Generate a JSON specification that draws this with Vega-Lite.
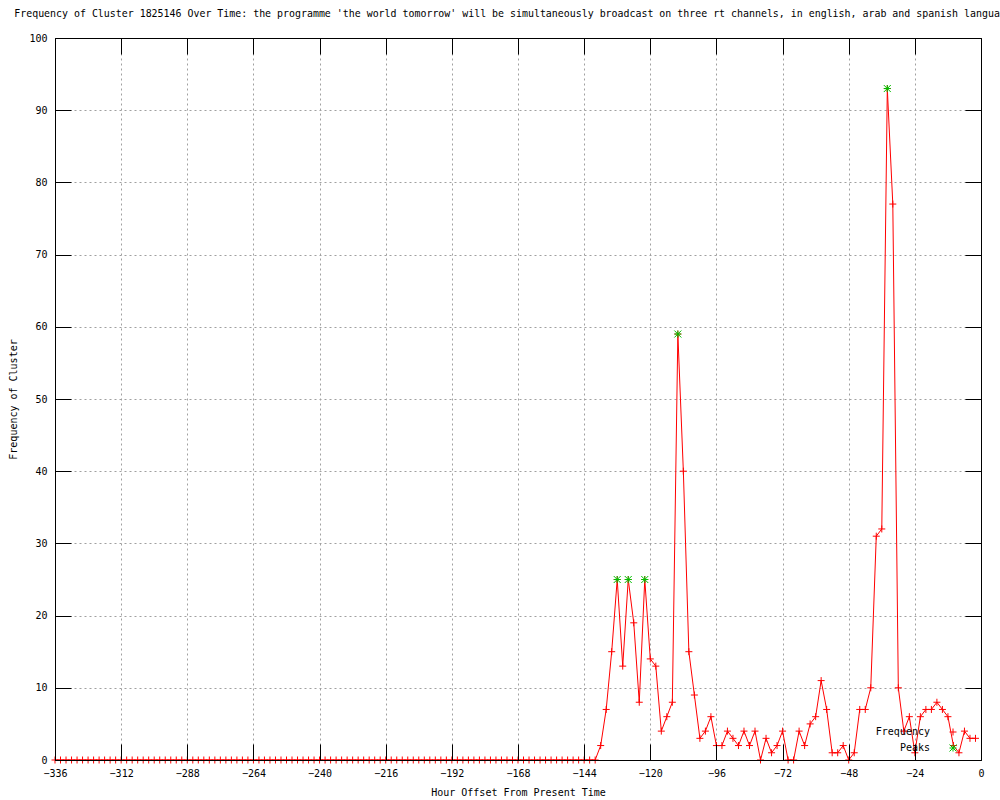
{
 "$schema": "https://vega.github.io/schema/vega-lite/v6.json",
 "autosize": {"type": "none"},
 "width": 926,
 "height": 722,
 "padding": {"left": 55, "top": 38, "right": 19, "bottom": 40},
 "background": "white",
 "title": {"text": "Frequency of Cluster 1825146 Over Time: the programme 'the world tomorrow' will be simultaneously broadcast on three rt channels, in english, arab and spanish languages", "font": "DejaVu Sans Mono", "fontSize": 9.93, "fontWeight": "normal", "color": "black", "anchor": "middle", "offset": 14, "limit": 0, "dx": -2},
 "config": {
  "view": {"stroke": null},
  "axis": {"labelFont": "DejaVu Sans Mono", "labelFontSize": 10, "labelColor": "black", "titleFont": "DejaVu Sans Mono", "titleFontSize": 10, "titleFontWeight": "normal", "titleColor": "black", "domainColor": "black", "tickColor": "black", "gridColor": "#a0a0a0", "gridDash": [2, 3], "gridWidth": 1, "gridOpacity": 1, "labelFlush": false, "labelOverlap": false}
 },
 "data": {"values": [
  {"h":-336,"f":0,"s":"Frequency"},{"h":-334,"f":0,"s":"Frequency"},{"h":-332,"f":0,"s":"Frequency"},{"h":-330,"f":0,"s":"Frequency"},{"h":-328,"f":0,"s":"Frequency"},{"h":-326,"f":0,"s":"Frequency"},{"h":-324,"f":0,"s":"Frequency"},{"h":-322,"f":0,"s":"Frequency"},{"h":-320,"f":0,"s":"Frequency"},{"h":-318,"f":0,"s":"Frequency"},{"h":-316,"f":0,"s":"Frequency"},{"h":-314,"f":0,"s":"Frequency"},{"h":-312,"f":0,"s":"Frequency"},{"h":-310,"f":0,"s":"Frequency"},{"h":-308,"f":0,"s":"Frequency"},{"h":-306,"f":0,"s":"Frequency"},{"h":-304,"f":0,"s":"Frequency"},{"h":-302,"f":0,"s":"Frequency"},{"h":-300,"f":0,"s":"Frequency"},{"h":-298,"f":0,"s":"Frequency"},{"h":-296,"f":0,"s":"Frequency"},{"h":-294,"f":0,"s":"Frequency"},{"h":-292,"f":0,"s":"Frequency"},{"h":-290,"f":0,"s":"Frequency"},{"h":-288,"f":0,"s":"Frequency"},{"h":-286,"f":0,"s":"Frequency"},{"h":-284,"f":0,"s":"Frequency"},{"h":-282,"f":0,"s":"Frequency"},{"h":-280,"f":0,"s":"Frequency"},{"h":-278,"f":0,"s":"Frequency"},{"h":-276,"f":0,"s":"Frequency"},{"h":-274,"f":0,"s":"Frequency"},{"h":-272,"f":0,"s":"Frequency"},{"h":-270,"f":0,"s":"Frequency"},{"h":-268,"f":0,"s":"Frequency"},{"h":-266,"f":0,"s":"Frequency"},{"h":-264,"f":0,"s":"Frequency"},{"h":-262,"f":0,"s":"Frequency"},{"h":-260,"f":0,"s":"Frequency"},{"h":-258,"f":0,"s":"Frequency"},{"h":-256,"f":0,"s":"Frequency"},{"h":-254,"f":0,"s":"Frequency"},{"h":-252,"f":0,"s":"Frequency"},{"h":-250,"f":0,"s":"Frequency"},{"h":-248,"f":0,"s":"Frequency"},{"h":-246,"f":0,"s":"Frequency"},{"h":-244,"f":0,"s":"Frequency"},{"h":-242,"f":0,"s":"Frequency"},{"h":-240,"f":0,"s":"Frequency"},{"h":-238,"f":0,"s":"Frequency"},{"h":-236,"f":0,"s":"Frequency"},{"h":-234,"f":0,"s":"Frequency"},{"h":-232,"f":0,"s":"Frequency"},{"h":-230,"f":0,"s":"Frequency"},{"h":-228,"f":0,"s":"Frequency"},{"h":-226,"f":0,"s":"Frequency"},{"h":-224,"f":0,"s":"Frequency"},{"h":-222,"f":0,"s":"Frequency"},{"h":-220,"f":0,"s":"Frequency"},{"h":-218,"f":0,"s":"Frequency"},{"h":-216,"f":0,"s":"Frequency"},{"h":-214,"f":0,"s":"Frequency"},{"h":-212,"f":0,"s":"Frequency"},{"h":-210,"f":0,"s":"Frequency"},{"h":-208,"f":0,"s":"Frequency"},{"h":-206,"f":0,"s":"Frequency"},{"h":-204,"f":0,"s":"Frequency"},{"h":-202,"f":0,"s":"Frequency"},{"h":-200,"f":0,"s":"Frequency"},{"h":-198,"f":0,"s":"Frequency"},{"h":-196,"f":0,"s":"Frequency"},{"h":-194,"f":0,"s":"Frequency"},{"h":-192,"f":0,"s":"Frequency"},{"h":-190,"f":0,"s":"Frequency"},{"h":-188,"f":0,"s":"Frequency"},{"h":-186,"f":0,"s":"Frequency"},{"h":-184,"f":0,"s":"Frequency"},{"h":-182,"f":0,"s":"Frequency"},{"h":-180,"f":0,"s":"Frequency"},{"h":-178,"f":0,"s":"Frequency"},{"h":-176,"f":0,"s":"Frequency"},{"h":-174,"f":0,"s":"Frequency"},{"h":-172,"f":0,"s":"Frequency"},{"h":-170,"f":0,"s":"Frequency"},{"h":-168,"f":0,"s":"Frequency"},{"h":-166,"f":0,"s":"Frequency"},{"h":-164,"f":0,"s":"Frequency"},{"h":-162,"f":0,"s":"Frequency"},{"h":-160,"f":0,"s":"Frequency"},{"h":-158,"f":0,"s":"Frequency"},{"h":-156,"f":0,"s":"Frequency"},{"h":-154,"f":0,"s":"Frequency"},{"h":-152,"f":0,"s":"Frequency"},{"h":-150,"f":0,"s":"Frequency"},{"h":-148,"f":0,"s":"Frequency"},{"h":-146,"f":0,"s":"Frequency"},{"h":-144,"f":0,"s":"Frequency"},{"h":-142,"f":0,"s":"Frequency"},{"h":-140,"f":0,"s":"Frequency"},
  {"h":-138,"f":2,"s":"Frequency"},{"h":-136,"f":7,"s":"Frequency"},{"h":-134,"f":15,"s":"Frequency"},{"h":-132,"f":25,"s":"Frequency"},{"h":-130,"f":13,"s":"Frequency"},{"h":-128,"f":25,"s":"Frequency"},{"h":-126,"f":19,"s":"Frequency"},{"h":-124,"f":8,"s":"Frequency"},{"h":-122,"f":25,"s":"Frequency"},{"h":-120,"f":14,"s":"Frequency"},{"h":-118,"f":13,"s":"Frequency"},{"h":-116,"f":4,"s":"Frequency"},{"h":-114,"f":6,"s":"Frequency"},{"h":-112,"f":8,"s":"Frequency"},{"h":-110,"f":59,"s":"Frequency"},{"h":-108,"f":40,"s":"Frequency"},{"h":-106,"f":15,"s":"Frequency"},{"h":-104,"f":9,"s":"Frequency"},{"h":-102,"f":3,"s":"Frequency"},{"h":-100,"f":4,"s":"Frequency"},{"h":-98,"f":6,"s":"Frequency"},{"h":-96,"f":2,"s":"Frequency"},{"h":-94,"f":2,"s":"Frequency"},{"h":-92,"f":4,"s":"Frequency"},{"h":-90,"f":3,"s":"Frequency"},{"h":-88,"f":2,"s":"Frequency"},{"h":-86,"f":4,"s":"Frequency"},{"h":-84,"f":2,"s":"Frequency"},{"h":-82,"f":4,"s":"Frequency"},{"h":-80,"f":0,"s":"Frequency"},{"h":-78,"f":3,"s":"Frequency"},{"h":-76,"f":1,"s":"Frequency"},{"h":-74,"f":2,"s":"Frequency"},{"h":-72,"f":4,"s":"Frequency"},{"h":-70,"f":0,"s":"Frequency"},{"h":-68,"f":0,"s":"Frequency"},{"h":-66,"f":4,"s":"Frequency"},{"h":-64,"f":2,"s":"Frequency"},{"h":-62,"f":5,"s":"Frequency"},{"h":-60,"f":6,"s":"Frequency"},{"h":-58,"f":11,"s":"Frequency"},{"h":-56,"f":7,"s":"Frequency"},{"h":-54,"f":1,"s":"Frequency"},{"h":-52,"f":1,"s":"Frequency"},{"h":-50,"f":2,"s":"Frequency"},{"h":-48,"f":0,"s":"Frequency"},{"h":-46,"f":1,"s":"Frequency"},{"h":-44,"f":7,"s":"Frequency"},{"h":-42,"f":7,"s":"Frequency"},{"h":-40,"f":10,"s":"Frequency"},{"h":-38,"f":31,"s":"Frequency"},{"h":-36,"f":32,"s":"Frequency"},{"h":-34,"f":93,"s":"Frequency"},{"h":-32,"f":77,"s":"Frequency"},{"h":-30,"f":10,"s":"Frequency"},{"h":-28,"f":4,"s":"Frequency"},{"h":-26,"f":6,"s":"Frequency"},{"h":-24,"f":1,"s":"Frequency"},{"h":-22,"f":6,"s":"Frequency"},{"h":-20,"f":7,"s":"Frequency"},{"h":-18,"f":7,"s":"Frequency"},{"h":-16,"f":8,"s":"Frequency"},{"h":-14,"f":7,"s":"Frequency"},{"h":-12,"f":6,"s":"Frequency"},{"h":-10,"f":2,"s":"Frequency"},{"h":-8,"f":1,"s":"Frequency"},{"h":-6,"f":4,"s":"Frequency"},{"h":-4,"f":3,"s":"Frequency"},{"h":-2,"f":3,"s":"Frequency"},
  {"h":-132,"f":25,"s":"Peaks"},{"h":-128,"f":25,"s":"Peaks"},{"h":-122,"f":25,"s":"Peaks"},{"h":-110,"f":59,"s":"Peaks"},{"h":-34,"f":93,"s":"Peaks"}
 ]},
 "layer": [
  {
   "transform": [{"filter": "datum.s === 'Frequency'"}],
   "mark": {"type": "line", "color": "#ff0000", "strokeWidth": 1},
   "encoding": {
    "x": {"field": "h", "type": "quantitative", "scale": {"domain": [-336, 0], "nice": false, "zero": false},
          "axis": {"orient": "bottom", "values": [-336,-312,-288,-264,-240,-216,-192,-168,-144,-120,-96,-72,-48,-24,0], "grid": false, "domain": true, "ticks": true, "tickSize": -16, "labelPadding": 24, "zindex": 1, "title": "Hour Offset From Present Time", "titlePadding": 9}},
    "y": {"field": "f", "type": "quantitative", "scale": {"domain": [0, 100], "nice": false},
          "axis": {"orient": "left", "values": [0,10,20,30,40,50,60,70,80,90,100], "grid": false, "domain": true, "ticks": true, "tickSize": -16, "labelPadding": 24, "zindex": 1, "title": "Frequency of Cluster", "titlePadding": 10}}
   }
  },
  {
   "mark": {"type": "point", "filled": false, "strokeWidth": 1, "size": 49, "opacity": 1},
   "encoding": {
    "x": {"field": "h", "type": "quantitative", "axis": null},
    "y": {"field": "f", "type": "quantitative", "axis": null},
    "color": {"field": "s", "type": "nominal", "scale": {"domain": ["Frequency", "Peaks"], "range": ["#ff0000", "#00c000"]},
              "legend": {"title": null, "orient": "none", "legendX": 893, "legendY": 689, "padding": 0, "labelFont": "DejaVu Sans Mono", "labelFontSize": 10, "labelColor": "black", "labelAlign": "right", "labelOffset": -28, "rowPadding": 4, "symbolStrokeWidth": 1, "symbolSize": 49,
                         "encode": {"symbols": {"update": {"shape": {"signal": "datum.value === 'Frequency' ? 'M-4.3,0L4.3,0M0,-1L0,1' : 'M-1,0L1,0M0,-1L0,1M-1,-1L1,1M-1,1L1,-1'"}}}}}},
    "shape": {"field": "s", "type": "nominal", "scale": {"domain": ["Frequency", "Peaks"], "range": ["M-1,0L1,0M0,-1L0,1", "M-1,0L1,0M0,-1L0,1M-1,-1L1,1M-1,1L1,-1"]},
              "legend": {"title": null, "orient": "none", "legendX": 893, "legendY": 689, "padding": 0, "labelFont": "DejaVu Sans Mono", "labelFontSize": 10, "labelColor": "black", "labelAlign": "right", "labelOffset": -28, "rowPadding": 4, "symbolStrokeWidth": 1, "symbolSize": 49,
                         "encode": {"symbols": {"update": {"shape": {"signal": "datum.value === 'Frequency' ? 'M-4.3,0L4.3,0M0,-1L0,1' : 'M-1,0L1,0M0,-1L0,1M-1,-1L1,1M-1,1L1,-1'"}}}}}}
   }
  },
  {
   "mark": {"type": "point", "opacity": 0},
   "encoding": {
    "x": {"field": "h", "type": "quantitative", "axis": {"orient": "top", "values": [-336,-312,-288,-264,-240,-216,-192,-168,-144,-120,-96,-72,-48,-24,0], "grid": true, "labels": false, "domain": true, "ticks": true, "tickSize": -16, "title": null, "zindex": 0}},
    "y": {"field": "f", "type": "quantitative", "axis": {"orient": "right", "values": [0,10,20,30,40,50,60,70,80,90,100], "grid": true, "labels": false, "domain": true, "ticks": true, "tickSize": -16, "title": null, "zindex": 0}}
   }
  }
 ],
 "resolve": {"axis": {"x": "independent", "y": "independent"}}
}
